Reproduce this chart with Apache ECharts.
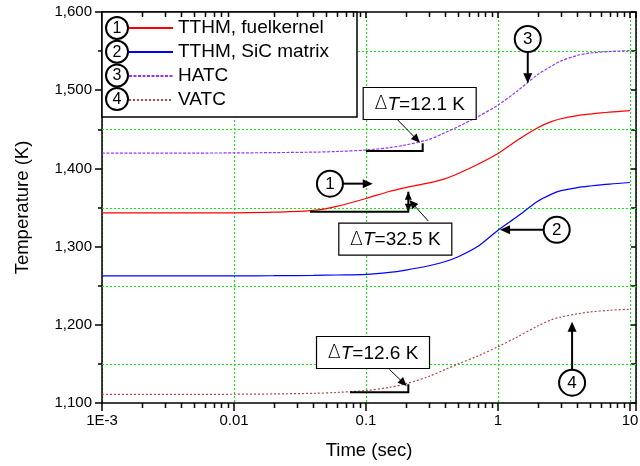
<!DOCTYPE html>
<html><head><meta charset="utf-8">
<script src="https://cdn.jsdelivr.net/npm/echarts@6/dist/echarts.min.js"></script>
<style>html,body{margin:0;padding:0;background:#fff}#c{width:640px;height:466px}</style>
</head><body><div id="c"></div>
<script>
// ---- data ----
const time = [0.001, 0.002, 0.005, 0.01, 0.02, 0.04, 0.06, 0.1, 0.15, 0.2, 0.3, 0.4, 0.5, 0.7, 1, 1.4, 2, 2.5, 3, 4, 5, 7, 10];
const tthmFuel = [1343, 1343, 1343, 1343.2, 1344, 1346.3, 1351.5, 1361.5, 1370.5, 1375.5, 1381.5, 1387, 1393.5, 1405, 1419, 1436, 1452, 1459.5, 1463.5, 1467.5, 1469.5, 1472, 1474];
const tthmSiC = [1262.5, 1262.5, 1262.5, 1262.6, 1262.8, 1263.2, 1263.7, 1264.5, 1267, 1270, 1275.5, 1281, 1287, 1300, 1321, 1338.5, 1358, 1366.5, 1371.5, 1375.5, 1377.5, 1380, 1382];
const hatc = [1419.5, 1419.5, 1419.6, 1419.8, 1420.2, 1420.8, 1421.6, 1423.5, 1426.5, 1430, 1437, 1446, 1453.5, 1466, 1481, 1499, 1520, 1530, 1537.5, 1544.5, 1547.5, 1549.5, 1550.5];
const vatc = [1111, 1111, 1111, 1111.2, 1111.6, 1112.4, 1113.5, 1116, 1120, 1124.5, 1134, 1143, 1150, 1160, 1172, 1184.5, 1198.5, 1206, 1210, 1214, 1216.5, 1218.5, 1220];
const seriesNames = ['TTHM, fuelkernel', 'TTHM, SiC matrix', 'HATC', 'VATC'];
const xTickLabels = {'-3': '1E-3', '-2': '0.01', '-1': '0.1', '0': '1', '1': '10'};
const minorTickValues = [0.002,0.003,0.004,0.005,0.006,0.007,0.008,0.009,0.02,0.03,0.04,0.05,0.06,0.07,0.08,0.09,0.2,0.3,0.4,0.5,0.6,0.7,0.8,0.9,2,3,4,5,6,7,8,9];
const yGridValues = [1150, 1250, 1350, 1450, 1550];
const xMin = 0.001, xMax = 11.1, yMin = 1100, yMax = 1600;
// annotations (data coordinates)
const circleLabels = ['1', '2', '3', '4'];
const circleCenters = [[0.0533, 1380.5], [2.784, 1321.5], [1.68, 1565.5], [3.64, 1126]];
const circleTips = [[0.1125, 1380.5], [1.036, 1321.5], [1.68, 1508.8], [3.64, 1204]];
const dtLabels = ['12.1', '32.5', '12.6'];
const dtBoxCenters = [[0.2551, 1483], [0.1667, 1309.5], [0.113, 1164.6]];
const dtPointerFrom = [[0.1739, 1461.9], [0.2965, 1332.7], [0.1502, 1143.1]];
const dtPointerTo = [[0.2564, 1432.9], [0.2128, 1359.6], [0.2034, 1121.7]];
const bracketStart = [[0.1, 1422.3], [0.03765, 1344.6], [0.0756, 1113.7]];
const bracketCorner = [[0.2688, 1422.3], [0.2092, 1344.6], [0.2092, 1113.7]];
const bracketTop = [[0.2688, 1432.1], [0.2092, 1370.2], [0.2092, 1123.9]];

const FONT = 'Liberation Sans, Arial, sans-serif';
const chart = echarts.init(document.getElementById('c'), null, {renderer: 'canvas'});
const green = '#00ee00';
function zip(vals) { return time.map((t, i) => [t, vals[i]]); }

const option = {
  animation: false,
  backgroundColor: '#fff',
  grid: {left: 102, right: 4, top: 12, bottom: 63, containLabel: false, outerBoundsMode: 'none'},
  legend: {
    orient: 'vertical', left: 128, top: 18, padding: 0, itemWidth: 44, itemHeight: 10, itemGap: 4,
    textStyle: {fontSize: 19, lineHeight: 20, color: '#000', fontFamily: FONT},
    itemStyle: {opacity: 0},
    data: seriesNames, selectedMode: false, z: 6
  },
  xAxis: [{
    type: 'log', logBase: 10, min: xMin, max: xMax, position: 'bottom',
    name: 'Time (sec)', nameLocation: 'middle', nameGap: 38,
    nameTextStyle: {fontSize: 18.5, color: '#000', fontFamily: FONT},
    axisLine: {show: true, lineStyle: {color: '#000', width: 1.5}},
    axisTick: {show: true, inside: false, length: 8, lineStyle: {color: '#000', width: 1.5}},
    axisLabel: {
      fontSize: 15, color: '#000', fontFamily: FONT, margin: 10,
      formatter: function (v) { const e = Math.log10(v); const r = Math.round(e); return Math.abs(e - r) < 1e-6 && xTickLabels[r] !== undefined ? xTickLabels[r] : ''; }
    },
    splitLine: {show: true, lineStyle: {color: green, type: [2, 2], width: 1}}
  }, {
    type: 'log', logBase: 10, min: xMin, max: xMax, position: 'top',
    axisLine: {show: true, lineStyle: {color: '#000', width: 1.5}},
    axisTick: {show: true, inside: true, length: 6, lineStyle: {color: '#000', width: 1.5}},
    axisLabel: {show: false}, splitLine: {show: false}
  }],
  yAxis: [{
    type: 'value', min: yMin, max: yMax, interval: 100, position: 'left',
    name: 'Temperature (K)', nameLocation: 'middle', nameGap: 70,
    nameTextStyle: {fontSize: 18.5, color: '#000', fontFamily: FONT},
    axisLine: {show: true, lineStyle: {color: '#000', width: 1.5}},
    axisTick: {show: true, inside: false, length: 7, lineStyle: {color: '#000', width: 1.5}},
    minorTick: {show: true, splitNumber: 2, length: 4, lineStyle: {color: '#000', width: 1.5}},
    axisLabel: {fontSize: 15, color: '#000', fontFamily: FONT, margin: 10, formatter: v => v.toLocaleString('en-US')},
    splitLine: {show: false}
  }, {
    type: 'value', min: yMin, max: yMax, interval: 50, position: 'right',
    axisLine: {show: true, lineStyle: {color: '#000', width: 1.5}},
    axisTick: {show: true, inside: true, length: 5, lineStyle: {color: '#000', width: 1.5}},
    axisLabel: {show: false}, splitLine: {show: false}
  }],
  series: [
    {name: seriesNames[0], type: 'line', data: zip(tthmFuel), smooth: 0.3, symbol: 'none', showSymbol: false, xAxisIndex: 0, yAxisIndex: 0,
     lineStyle: {color: '#ff0000', width: 1.2}, itemStyle: {color: '#ff0000'}, z: 3},
    {name: seriesNames[1], type: 'line', data: zip(tthmSiC), smooth: 0.3, symbol: 'none', showSymbol: false, xAxisIndex: 0, yAxisIndex: 0,
     lineStyle: {color: '#0000ff', width: 1.2}, itemStyle: {color: '#0000ff'}, z: 3},
    {name: seriesNames[2], type: 'line', data: zip(hatc), smooth: 0.3, symbol: 'none', showSymbol: false, xAxisIndex: 0, yAxisIndex: 0,
     lineStyle: {color: '#9933ff', width: 1.2, type: [3, 1.5]}, itemStyle: {color: '#9933ff'}, z: 3},
    {name: seriesNames[3], type: 'line', data: zip(vatc), smooth: 0.3, symbol: 'none', showSymbol: false, xAxisIndex: 0, yAxisIndex: 0,
     lineStyle: {color: '#b04848', width: 1.2, type: [2, 2]}, itemStyle: {color: '#b04848'}, z: 3}
  ]
};
chart.setOption(option);

function P(p) { return chart.convertToPixel({xAxisIndex: 0, yAxisIndex: 0}, p); }
function head(tip, from, len, w) {
  const dx = tip[0] - from[0], dy = tip[1] - from[1];
  const d = Math.hypot(dx, dy) || 1; const ux = dx / d, uy = dy / d;
  const bx = tip[0] - ux * len, by = tip[1] - uy * len;
  return {type: 'polygon', z: 20, shape: {points: [[tip[0], tip[1]], [bx - uy * w / 2, by + ux * w / 2], [bx + uy * w / 2, by - ux * w / 2]]}, style: {fill: '#000'}};
}
function arrow(from, tip, lw, len, w) {
  const dx = tip[0] - from[0], dy = tip[1] - from[1];
  const d = Math.hypot(dx, dy) || 1; const ux = dx / d, uy = dy / d;
  return [
    {type: 'line', z: 20, shape: {x1: from[0], y1: from[1], x2: tip[0] - ux * len * 0.7, y2: tip[1] - uy * len * 0.7}, style: {stroke: '#000', lineWidth: lw}},
    head(tip, from, len, w)
  ];
}
function circle(c, r, label, fs) {
  return [
    {type: 'circle', z: 21, shape: {cx: c[0], cy: c[1], r: r}, style: {fill: '#fff', stroke: '#000', lineWidth: 2}},
    {type: 'text', z: 22, style: {x: c[0], y: c[1] + 0.5, text: label, fill: '#000', font: fs + 'px ' + FONT, align: 'center', verticalAlign: 'middle'}}
  ];
}
const g = [];
// horizontal dotted grid lines at half-hundreds
yGridValues.forEach(v => {
  const a = P([xMin, v]), b = P([xMax, v]);
  const y = Math.round(a[1]) + 0.5;
  g.push({type: 'line', z: 1, silent: true, shape: {x1: a[0], y1: y, x2: b[0], y2: y}, style: {stroke: green, lineWidth: 1, lineDash: [2, 2]}});
});
// log-axis minor ticks (bottom outward, top inward)
minorTickValues.forEach(v => {
  const b = P([v, yMin]), t = P([v, yMax]);
  const x = Math.round(b[0]) + 0.5;
  g.push({type: 'line', z: 30, silent: true, shape: {x1: x, y1: b[1], x2: x, y2: b[1] + 5}, style: {stroke: '#000', lineWidth: 1.5}});
  g.push({type: 'line', z: 30, silent: true, shape: {x1: x, y1: t[1], x2: x, y2: t[1] + 5}, style: {stroke: '#000', lineWidth: 1.5}});
});
// legend frame and circled numbers
const lg = chart.getModel().getComponent('grid').coordinateSystem.getRect();
g.push({type: 'rect', z: 5, shape: {x: lg.x, y: lg.y, width: 255, height: 105}, style: {fill: '#fff', stroke: '#000', lineWidth: 1.5}});
circleLabels.forEach((l, i) => { circle([lg.x + 15, lg.y + 16 + i * 23.7], 11, l, 16).forEach(e => { e.z = 7 + (e.z - 21); g.push(e); }); });
// numbered arrows
circleLabels.forEach((l, i) => {
  const c = P(circleCenters[i]), t = P(circleTips[i]);
  const dx = t[0] - c[0], dy = t[1] - c[1], d = Math.hypot(dx, dy);
  const s = [c[0] + dx / d * 13, c[1] + dy / d * 13];
  arrow(s, t, 2, 10, 9).forEach(e => g.push(e));
  circle(c, 13, l, 17).forEach(e => g.push(e));
});
// delta-T annotations
dtLabels.forEach((l, i) => {
  const a = P(bracketStart[i]), b = P(bracketCorner[i]), c = P(bracketTop[i]);
  g.push({type: 'polyline', z: 19, shape: {points: [a, b, c]}, style: {stroke: '#000', lineWidth: 2, fill: null}});
  if (i === 1) { g.push(head(c, b, 8, 7)); g.push(head(b, c, 8, 7)); }
  arrow(P(dtPointerFrom[i]), P(dtPointerTo[i]), 1, 9, 8).forEach(e => g.push(e));
  const bc = P(dtBoxCenters[i]);
  g.push({type: 'rect', z: 23, shape: {x: bc[0] - 56.5, y: bc[1] - 16, width: 113, height: 32}, style: {fill: '#fff', stroke: '#000', lineWidth: 1.2}});
  g.push({type: 'text', z: 24, style: {x: bc[0], y: bc[1] + 1, align: 'center', verticalAlign: 'middle',
    text: '{d|Δ}{i|T}{n|=' + l + ' K}',
    rich: {d: {fontSize: 19, fontFamily: 'DejaVu Sans', fill: '#000', fontWeight: 200},
           i: {fontSize: 19, fontFamily: FONT, fontStyle: 'italic', fill: '#000'},
           n: {fontSize: 19, fontFamily: FONT, fill: '#000'}}}});
});
chart.setOption({graphic: g});
</script></body></html>
